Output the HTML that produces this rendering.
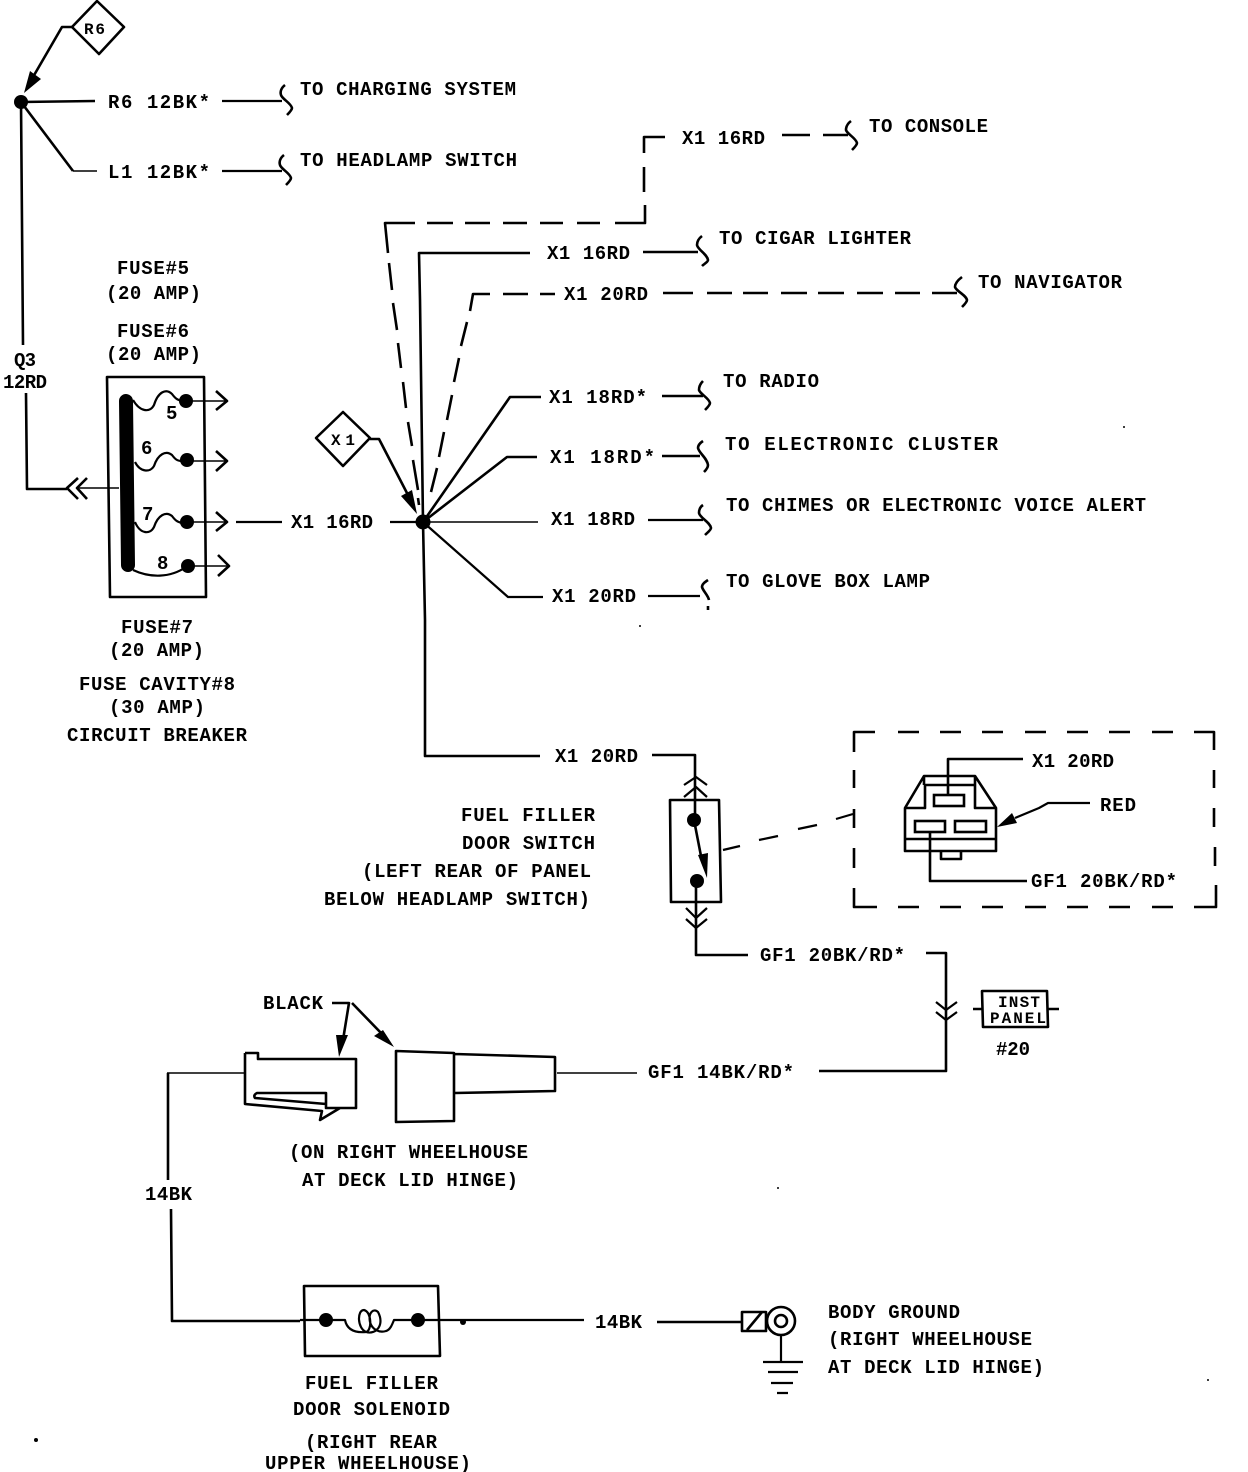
<!DOCTYPE html>
<html><head><meta charset="utf-8"><style>
html,body{margin:0;padding:0;background:#fff}
svg{display:block}
text{font-family:"Liberation Mono",monospace;font-size:19px;font-weight:bold;fill:#000;stroke:none;transform:translateY(-1px)}
.s{font-size:16px}
.l{fill:none;stroke:#000;stroke-width:2.6;stroke-linejoin:round}
.m{fill:none;stroke:#000;stroke-width:2.2;stroke-linejoin:round}
.t{fill:none;stroke:#000;stroke-width:1.6}
.f{fill:#000;stroke:none}
</style></head><body>
<svg width="1248" height="1472" viewBox="0 0 1248 1472" xmlns="http://www.w3.org/2000/svg">
<!-- R6 -->
<path class="l" d="M97 1L124 27L99 54L72 27Z"/>
<text x="84" y="35" class="s" textLength="21">R6</text>
<path class="l" d="M72 27H62L33 77"/>
<path class="f" d="M24 93L30 71L41 79Z"/>
<circle class="f" cx="21" cy="102" r="7"/>
<path class="l" d="M21 102L95 101M21 102L73 171"/>
<path class="t" d="M73 171H97"/>
<path class="l" d="M21 102L23 345M26 393L27 489H67"/>
<path class="m" d="M222 101H282M222 171H282"/>
<path class="l" d="M285 85c-4 3 -5 7 -4 10c1 4 10 8 11 13c0 2 -3 5 -5 7M284 155c-4 3 -5 7 -4 10c1 4 10 8 11 13c0 2 -3 5 -5 7"/>
<text x="108" y="109" textLength="102">R6 12BK*</text>
<text x="108" y="179" textLength="102">L1 12BK*</text>
<text x="300" y="96" textLength="216">TO CHARGING SYSTEM</text>
<text x="300" y="167" textLength="217">TO HEADLAMP SWITCH</text>
<!-- Fuse block -->
<text x="117" y="275" textLength="72">FUSE#5</text>
<text x="106" y="300" textLength="95">(20 AMP)</text>
<text x="117" y="338" textLength="72">FUSE#6</text>
<text x="106" y="361" textLength="95">(20 AMP)</text>
<text x="14" y="367" textLength="22">Q3</text>
<text x="3" y="389" textLength="44">12RD</text>
<path class="l" d="M107 377H204L206 597H110Z"/>
<path d="M126 401L128 565" stroke="#000" stroke-width="14" stroke-linecap="round" fill="none"/>
<path class="m" d="M133 400C140 412 150 413 154 405C158 392 166 388 172 394C175 398 177 400 182 401M135 462C140 472 150 473 154 466C158 454 166 450 172 455C175 459 177 461 182 461M135 522C140 534 150 535 154 527C158 515 166 511 172 516C175 520 177 522 182 523M133 570C150 578 170 578 186 567"/>
<circle class="f" cx="186" cy="401" r="7"/><circle class="f" cx="187" cy="460" r="7"/><circle class="f" cx="187" cy="522" r="7"/><circle class="f" cx="188" cy="566" r="7"/>
<path class="t" d="M186 401H225M187 461H225M187 522H225M188 566H227M78 488H119"/>
<path class="l" d="M216 391L227 401L216 410M216 451L227 461L216 471M216 512L227 522L216 531M218 555L229 566L218 576M78 478L67 488L78 499M87 478L77 488L87 499"/>
<text x="166" y="420" textLength="12">5</text>
<text x="141" y="455" textLength="12">6</text>
<text x="142" y="521" textLength="12">7</text>
<text x="157" y="570" textLength="12">8</text>
<text x="121" y="634" textLength="72">FUSE#7</text>
<text x="109" y="657" textLength="95">(20 AMP)</text>
<text x="79" y="691" textLength="156">FUSE CAVITY#8</text>
<text x="109" y="714" textLength="96">(30 AMP)</text>
<text x="67" y="742" textLength="180">CIRCUIT BREAKER</text>
<path class="m" d="M236 522H282M390 522H423"/>
<text x="291" y="529" textLength="82">X1 16RD</text>
<!-- X1 -->
<path class="l" d="M343 412L370 438L343 466L316 438Z"/>
<text x="331" y="446" class="s" textLength="24">X1</text>
<path class="l" d="M370 439H379L408 495"/>
<path class="f" d="M417 514L401 496L412 490Z"/>
<circle class="f" cx="423" cy="522" r="7.5"/>
<path class="l" d="M530 253H419L420 300L423 522L425 620V756H540M423 522L510 397H541M423 522L507 457H537"/>
<path class="t" d="M423 522H538"/>
<path class="m" d="M423 522L508 597H543"/>
<!-- dashed -->
<path class="l" d="M388 253L385 223H415M427 223H453M465 223H490M503 223H527M540 223H563M577 223H600M615 223H645V205M644 192V167M644 153V137H665"/>
<path class="l" d="M389 263L392 290M393 303L397 330M398 343L401 368M403 382L406 408M408 422L412 446M413 460L418 490M418 498L419 505"/>
<path class="l" d="M490 294H473L470 311M467 322L461 346M459 358L454 382M452 395L447 420M444 432L439 457M437 468L431 492"/>
<path class="l" d="M503 294H528M540 294H555"/>
<path class="l" d="M663 293H693M707 293H732M743 293H768M781 293H807M818 293H844M857 293H883M895 293H920M932 293H957"/>
<path class="l" d="M782 135H810M823 135H848"/>
<path class="l" d="M643 252H698M662 396H703M662 456H700"/>
<path class="m" d="M648 520H703M648 596H700"/>
<path class="l" d="M851 121c-4 3 -5 6 -5 9c1 4 10 8 11 13c0 2 -3 5 -5 7M702 236c-4 3 -5 6 -5 9c1 5 10 9 11 15c0 2 -4 4 -6 6M962 277c-4 3 -7 6 -7 10c1 4 11 8 12 13c0 2 -3 5 -5 7M703 381c-3 3 -4 6 -4 9c1 4 10 8 11 13c0 2 -3 5 -5 7M703 441c-3 2 -5 4 -5 7c1 5 9 10 10 17c0 2 -2 5 -4 7M703 505c-3 2 -4 5 -4 8c1 5 11 9 12 15c0 2 -4 5 -6 7M708 580c-3 2 -6 4 -6 7c1 4 6 8 7 13M708 606v4"/>
<!-- right labels -->
<text x="682" y="145" textLength="83">X1 16RD</text>
<text x="869" y="133" textLength="119">TO CONSOLE</text>
<text x="547" y="260" textLength="83">X1 16RD</text>
<text x="719" y="245" textLength="192">TO CIGAR LIGHTER</text>
<text x="564" y="301" textLength="84">X1 20RD</text>
<text x="978" y="289" textLength="144">TO NAVIGATOR</text>
<text x="549" y="404" textLength="98">X1 18RD*</text>
<text x="723" y="388" textLength="96">TO RADIO</text>
<text x="550" y="464" textLength="105">X1 18RD*</text>
<text x="725" y="451" textLength="273">TO ELECTRONIC CLUSTER</text>
<text x="551" y="526" textLength="84">X1 18RD</text>
<text x="726" y="512" textLength="420">TO CHIMES OR ELECTRONIC VOICE ALERT</text>
<text x="552" y="603" textLength="84">X1 20RD</text>
<text x="726" y="588" textLength="204">TO GLOVE BOX LAMP</text>
<!-- switch -->
<path class="l" d="M652 755H695V820M696 882V955H748"/>
<text x="555" y="763" textLength="83">X1 20RD</text>
<path class="m" d="M684 785L696 777L707 785M684 797L696 787L707 797M686 908L696 918L707 908M686 919L696 928L707 919"/>
<path class="l" d="M670 800H719L721 902H671Z"/>
<circle class="f" cx="694" cy="820" r="7"/><circle class="f" cx="697" cy="881" r="7"/>
<path class="l" d="M694 820L701 856"/>
<path class="f" d="M698 855L708 853L707 878Z"/>
<text x="461" y="822" textLength="134">FUEL FILLER</text>
<text x="462" y="850" textLength="133">DOOR SWITCH</text>
<text x="362" y="878" textLength="229">(LEFT REAR OF PANEL</text>
<text x="324" y="906" textLength="266">BELOW HEADLAMP SWITCH)</text>
<path class="m" d="M723 850L740 846M759 840L778 836M798 829L817 825M836 819L853 814"/>
<!-- dashed box -->
<path class="l" d="M854 752V732H875M898 732H919M940 732H961M982 732H1003M1025 732H1046M1067 732H1088M1109 732H1130M1152 732H1173M1194 732H1214V750"/>
<path class="l" d="M854 770V788M854 809V828M854 848V868M854 888V907H877M898 907H919M940 907H961M982 907H1003M1025 907H1046M1067 907H1088M1109 907H1130M1152 907H1173M1194 907H1216V885"/>
<path class="l" d="M1214 770V788M1214 808V827M1215 847V866"/>
<!-- connector -->
<path class="l" d="M905 808L924 776H975L996 808V851H905ZM905 808H925V785M924 776V785M925 785H975M975 776V808H996M905 839H996M941 851V859H961V851"/>
<rect fill="#fff" stroke="#000" stroke-width="2.6" x="934" y="795" width="30" height="11"/>
<rect fill="#fff" stroke="#000" stroke-width="2.6" x="915" y="821" width="30" height="11"/>
<rect fill="#fff" stroke="#000" stroke-width="2.6" x="955" y="821" width="31" height="11"/>
<path class="l" d="M948 795V759H1023M930 832V881H1027"/>
<path class="m" d="M1015 818L1039 808L1048 803H1090"/>
<path class="f" d="M997 827L1012 813L1017 823Z"/>
<text x="1032" y="768" textLength="82">X1 20RD</text>
<text x="1100" y="812" textLength="36">RED</text>
<text x="1031" y="888" textLength="146">GF1 20BK/RD*</text>
<!-- inst panel -->
<text x="760" y="962" textLength="145">GF1 20BK/RD*</text>
<path class="l" d="M926 953H946V1071H819"/>
<path class="m" d="M936 1002L946 1010L957 1002M936 1012L946 1020L957 1012"/>
<path class="l" d="M982 991H1047L1048 1027H983ZM973 1009H982M1048 1009H1059"/>
<text x="998" y="1008" class="s" textLength="42">INST</text>
<text x="990" y="1024" class="s" textLength="56">PANEL</text>
<text x="996" y="1056" textLength="34">#20</text>
<text x="648" y="1079" textLength="146">GF1 14BK/RD*</text>
<path class="t" d="M557 1073H637"/>
<!-- connector pair -->
<text x="263" y="1010" textLength="60">BLACK</text>
<path class="l" d="M332 1003H349L343 1040M352 1003L382 1034"/>
<path class="f" d="M339 1057L336 1035L348 1035Z M394 1047L374 1036L383 1030Z"/>
<path class="l" d="M245 1053H258V1059H356V1108H326V1093H257Q253 1095 255 1098L326 1104M245 1053V1104L322 1111L320 1120L340 1108"/>
<path class="l" d="M396 1051L454 1053V1121L396 1122ZM455 1054L555 1057V1091L455 1093"/>
<text x="289" y="1159" textLength="239">(ON RIGHT WHEELHOUSE</text>
<text x="302" y="1187" textLength="216">AT DECK LID HINGE)</text>
<path class="t" d="M167 1073H245"/>
<path class="l" d="M168 1073V1180M171 1209L172 1321H300"/>
<text x="145" y="1201" textLength="47">14BK</text>
<!-- solenoid -->
<path class="l" d="M304 1286H438L440 1356H305Z"/>
<circle class="f" cx="326" cy="1320" r="7"/><circle class="f" cx="418" cy="1320" r="7"/>
<path class="m" d="M300 1320H345C347 1330 355 1333 366 1332C372 1331 372 1312 364 1310C357 1310 357 1328 366 1332C376 1335 385 1325 378 1312C374 1308 368 1312 370 1322C372 1330 380 1333 386 1331C390 1330 392 1325 394 1320H418H584"/>
<circle class="f" cx="463" cy="1322" r="3"/>
<text x="595" y="1329" textLength="47">14BK</text>
<path class="l" d="M657 1322H742"/>
<rect class="l" x="742" y="1312" width="24" height="19"/>
<path class="l" d="M747 1330L762 1312"/>
<circle class="l" cx="781" cy="1321" r="14"/><circle class="l" cx="781" cy="1321" r="6"/>
<path class="m" d="M781 1335V1362M763 1362H803M768 1372H798M771 1383H793M777 1393H788"/>
<text x="305" y="1390" textLength="133">FUEL FILLER</text>
<text x="293" y="1416" textLength="157">DOOR SOLENOID</text>
<text x="305" y="1449" textLength="132">(RIGHT REAR</text>
<text x="265" y="1470" textLength="206">UPPER WHEELHOUSE)</text>
<text x="828" y="1319" textLength="132">BODY GROUND</text>
<text x="828" y="1346" textLength="204">(RIGHT WHEELHOUSE</text>
<text x="828" y="1374" textLength="216">AT DECK LID HINGE)</text>
<!-- specks -->
<circle class="f" cx="36" cy="1440" r="2"/><circle class="f" cx="778" cy="1188" r="1"/><circle class="f" cx="1208" cy="1380" r="1"/><circle class="f" cx="640" cy="626" r="1"/><circle class="f" cx="1124" cy="427" r="1"/>
</svg>
</body></html>
